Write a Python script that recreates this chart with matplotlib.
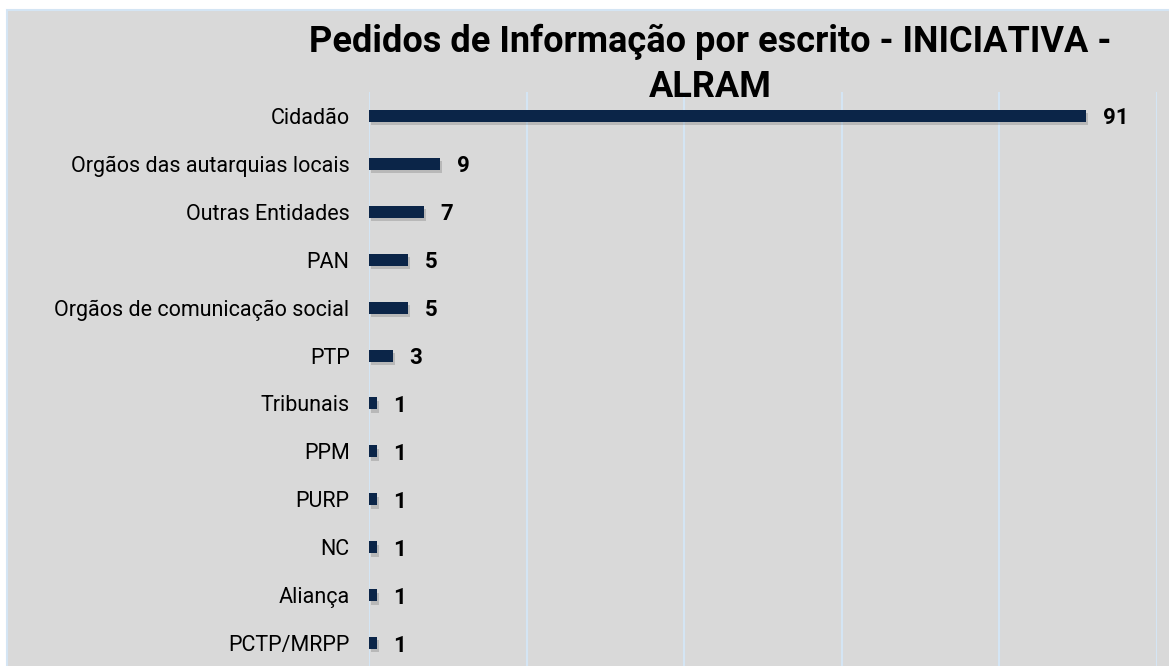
import matplotlib.pyplot as plt
import matplotlib.patheffects as pe
from matplotlib.patches import Rectangle

categories = ["Cidadão", "Orgãos das autarquias locais", "Outras Entidades", "PAN",
              "Orgãos de comunicação social", "PTP", "Tribunais", "PPM", "PURP",
              "NC", "Aliança", "PCTP/MRPP"]
values = [91, 9, 7, 5, 5, 3, 1, 1, 1, 1, 1, 1]
title_lines = ["Pedidos de Informação por escrito - INICIATIVA -", "ALRAM"]

W, H = 1169, 666
bg = "#d9d9d9"
bar_color = "#0b2548"
grid_color = "#d4e5f4"

plt.rcParams['font.family'] = ['Roboto', 'DejaVu Sans']

fig = plt.figure(figsize=(W / 100, H / 100), dpi=100)
fig.patch.set_facecolor("white")
# grey panel with light blue edge
fig.patches.append(Rectangle((7 / W, -0.01), 1.0, (H - 10) / H + 0.01,
                             transform=fig.transFigure, facecolor=bg,
                             edgecolor=grid_color, linewidth=1.5, zorder=-5))

ax = fig.add_axes([369 / W, 0, 788 / W, (H - 92) / H])
ax.set_facecolor("none")

ypos = list(range(len(categories)))
bars = ax.barh(ypos, values, height=0.25, color=bar_color, zorder=3)
for b in bars:
    b.set_path_effects([pe.SimplePatchShadow(offset=(1.5, -2.5), shadow_rgbFace="#444444", alpha=0.22),
                        pe.Normal()])

for y, v in zip(ypos, values):
    ax.annotate(str(v), (v, y), xytext=(12, 0), textcoords="offset points",
                ha="left", va="center_baseline", fontsize=16, fontweight="bold", color="black")

ax.set_xlim(0, 100)
ax.set_ylim(11.48, -0.5)
ax.set_xticks([0, 20, 40, 60, 80, 100])
ax.xaxis.grid(True, color=grid_color, linewidth=1.5, zorder=0)
ax.set_axisbelow(True)
ax.tick_params(axis="x", length=0, labelbottom=False)
ax.tick_params(axis="y", length=0, pad=14)
ax.set_yticks(ypos)
ax.set_yticklabels(categories, fontsize=15.5)
for s in ax.spines.values():
    s.set_visible(False)

for line, base in zip(title_lines, [52, 97]):
    fig.text(710 / W, 1 - base / H, line, ha="center", va="baseline",
             fontsize=26, fontweight="bold")

fig.savefig("out.png", dpi=100)
